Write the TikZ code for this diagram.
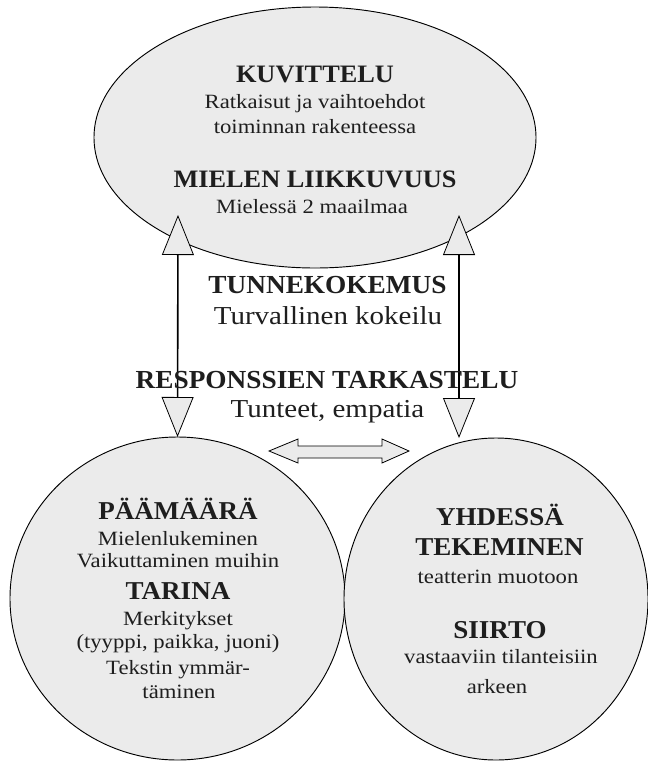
\documentclass[tikz,border=0pt]{standalone}
\usepackage{fontspec}
\setmainfont{Liberation Serif}[
  UprightFeatures={FakeStretch=1.12},
  BoldFeatures={FakeStretch=1.05}]
\usetikzlibrary{shapes.geometric,arrows.meta}

% font size given in pt
\newcommand{\fsz}[1]{\fontsize{#1}{#1}\selectfont}

\definecolor{bubble}{HTML}{EBEBEB}
\definecolor{ink}{HTML}{1E1E1E}

\tikzset{
  bubble/.style={ellipse, draw=black, line width=0.7pt, fill=bubble, inner sep=0pt, outer sep=0pt},
  txt/.style={anchor=base, inner sep=0pt, text=ink},
  head/.style={txt, font=\bfseries\fsz{18.8}},
  sub/.style={txt, font=\fsz{15.2}},
  midhead/.style={txt, font=\bfseries\fsz{19.5}},
  midsub/.style={txt, font=\fsz{19.4}},
  lowhead/.style={txt, font=\bfseries\fsz{19.3}},
  lowsub/.style={txt, font=\fsz{15.2}},
  gtip/.tip={Triangle[width=24pt,length=30pt,fill=bubble,line width=0.6pt]},
  link/.style={line width=1.2pt, {gtip}-{gtip}},
}

\begin{document}
\begin{tikzpicture}[x=0.75pt,y=-0.75pt]
\useasboundingbox (0,0) rectangle (648,761);

% the three bubbles
\node[bubble, minimum width=442*0.75pt, minimum height=261*0.75pt] (top) at (315,137.5) {};
\node[bubble, minimum width=335*0.75pt, minimum height=323*0.75pt] (left) at (177.5,598.5) {};
\node[bubble, minimum width=304*0.75pt, minimum height=322*0.75pt] (right) at (496,599) {};

% ends of the two vertical links
\coordinate (tl) at (178,215);
\coordinate (tr) at (459,215);
\coordinate (br) at (459,438);

\draw[link] (left.north) -- (tl);
\draw[link] (br) -- (tr);

% two-way arrow between the lower bubbles
\coordinate (da) at (269,451);
\coordinate (db) at (409,451);
\draw[line width=0.6pt, fill=bubble]
  (da) -- ++(29,-12) -- ++(0,7) -- ++(84,0) -- ++(0,-7) -- (db)
  -- ++(-27,12) -- ++(0,-5) -- ++(-84,0) -- ++(0,5) -- cycle;

% top bubble
\node[head] (kuv) at (315,82) {KUVITTELU};
\node[sub] (kuv1) at (315,108) {Ratkaisut ja vaihtoehdot};
\node[sub] (kuv2) at (315,133) {toiminnan rakenteessa};
\node[head] (mie) at (315,187) {MIELEN LIIKKUVUUS};
\node[sub] (mie1) at (312,213) {Mielessä 2 maailmaa};

% middle texts
\node[midhead] (tun) at (327.5,293) {TUNNEKOKEMUS};
\node[midsub] (tun1) at (328,324) {Turvallinen kokeilu};
\node[midhead] (res) at (327,388) {RESPONSSIEN TARKASTELU};
\node[midsub] (res1) at (327.5,417) {Tunteet, empatia};

% left bubble
\node[lowhead] (paa) at (178,519) {PÄÄMÄÄRÄ};
\node[lowsub] (paa1) at (178,545) {Mielenlukeminen};
\node[lowsub] (paa2) at (178,567) {Vaikuttaminen muihin};
\node[lowhead] (tar) at (178,599) {TARINA};
\node[lowsub] (tar1) at (178,625) {Merkitykset};
\node[lowsub] (tar2) at (178,648) {(tyyppi, paikka, juoni)};
\node[lowsub] (tar3) at (178,674) {Tekstin ymmär-};
\node[lowsub] (tar4) at (179,698) {täminen};

% right bubble
\node[lowhead] (yhd) at (500,525) {YHDESSÄ};
\node[lowhead] (yhd1) at (499.5,555) {TEKEMINEN};
\node[lowsub] (yhd2) at (498,583) {teatterin muotoon};
\node[lowhead] (sii) at (500,638) {SIIRTO};
\node[lowsub] (sii1) at (501,663) {vastaaviin tilanteisiin};
\node[lowsub] (sii2) at (497,693) {arkeen};
\end{tikzpicture}
\end{document}
